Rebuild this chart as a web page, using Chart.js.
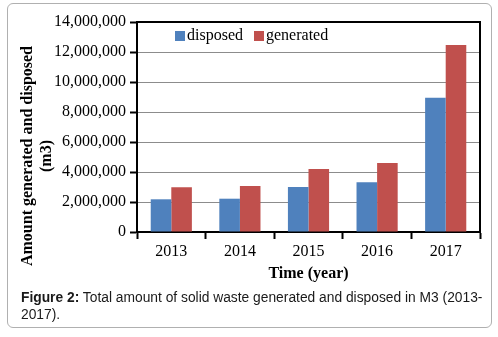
<!DOCTYPE html>
<html><head><meta charset="utf-8">
<script src="https://cdn.jsdelivr.net/npm/chart.js@4.4.1/dist/chart.umd.min.js"></script>
<style>
html,body{margin:0;padding:0;background:#fff;}
#wrap{position:relative;width:498px;height:337px;overflow:hidden;}
#frame{position:absolute;left:7px;top:3px;width:485px;height:325px;border:1px solid #b0b0b0;border-radius:6px;box-sizing:border-box;}
#cv{position:absolute;left:0;top:0;}
#cap{position:absolute;left:21px;top:289px;width:470px;font-family:"Liberation Sans",Arial,sans-serif;font-size:13.8px;line-height:17px;color:#1a1a1a;white-space:nowrap;}
</style></head><body>
<div id="wrap">
<div id="frame"></div>
<canvas id="cv" width="498" height="290" style="width:498px;height:290px"></canvas>
<div id="cap"><b>Figure 2:</b> Total amount of solid waste generated and disposed in M3 (2013-<br>2017).</div>
</div>
<script>
const years = ["2013","2014","2015","2016","2017"];
const disposed = [2180000, 2220000, 3000000, 3310000, 8950000];
const generated = [2980000, 3070000, 4200000, 4600000, 12470000];
const seriesNames = ["disposed","generated"];
const seriesColors = ["#4F81BD","#C0504D"];
const yTitleLines = ["Amount generated and disposed","(m3)"];
const xTitle = "Time (year)";

const serif = "'Liberation Serif','Times New Roman',serif";

const framePlugin = {
  id:'frameBox',
  afterDraw(chart){
    const {ctx, chartArea:a} = chart;
    ctx.save();
    ctx.strokeStyle='#000'; ctx.lineWidth=2;
    ctx.beginPath();
    ctx.moveTo(a.left, a.top); ctx.lineTo(a.right, a.top); ctx.lineTo(a.right, a.bottom);
    ctx.stroke();
    // legend
    ctx.font = "16px " + serif;
    ctx.textBaseline = 'middle';
    let x = a.left + 38;
    const y = a.top + 14;
    chart.data.datasets.forEach((ds)=>{
      ctx.fillStyle = ds.backgroundColor;
      ctx.fillRect(x, y-5, 10, 10);
      x += 12;
      ctx.fillStyle = '#000';
      ctx.textAlign='left';
      ctx.fillText(ds.label, x, y);
      x += ctx.measureText(ds.label).width + 11;
    });
    // y title
    ctx.font = "bold 16px " + serif;
    ctx.textAlign='center';
    ctx.save();
    ctx.translate(28, 156);
    ctx.rotate(-Math.PI/2);
    ctx.fillText(yTitleLines[0], 0, 0);
    ctx.fillText(yTitleLines[1], 0, 19);
    ctx.restore();
    ctx.restore();
  }
};

new Chart(document.getElementById('cv'), {
  type:'bar',
  data:{
    labels: years,
    datasets:[
      {label:seriesNames[0], data:disposed, backgroundColor:seriesColors[0]},
      {label:seriesNames[1], data:generated, backgroundColor:seriesColors[1]}
    ]
  },
  options:{
    responsive:false, animation:false,
    layout:{padding:{left:0,top:22,right:18,bottom:0}},
    plugins:{legend:{display:false}, tooltip:{enabled:false}},
    datasets:{bar:{categoryPercentage:0.6, barPercentage:1}},
    scales:{
      x:{
        grid:{offset:true, drawOnChartArea:false, drawTicks:true, tickLength:7, tickColor:'#000', tickWidth:2},
        border:{color:'#000', width:2},
        ticks:{color:'#000', font:{family:serif, size:16}, padding:3},
        title:{display:true, text:xTitle, color:'#000', font:{family:serif, size:16, weight:'bold'}, padding:{top:0,bottom:7}},
        afterFit(s){ s.height = 58; }
      },
      y:{
        min:0, max:14000000,
        ticks:{stepSize:2000000, color:'#000', font:{family:serif, size:16}, padding:4,
          callback:(v)=>Number(v).toLocaleString('en-US')},
        grid:{color:'#8c8c8c', lineWidth:1, tickLength:7, tickColor:'#000', tickWidth:2},
        border:{color:'#000', width:2},
        afterFit(s){ s.width = 137; }
      }
    }
  },
  plugins:[framePlugin]
});
</script>
</body></html>
